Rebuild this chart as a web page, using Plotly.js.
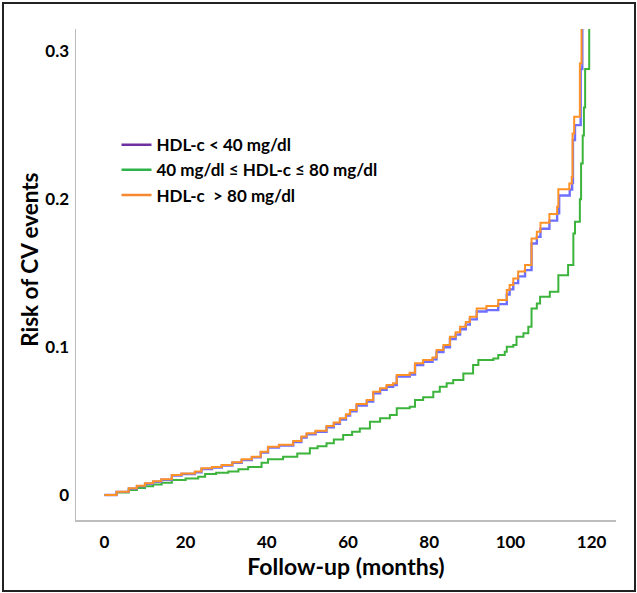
<!DOCTYPE html>
<html>
<head>
<meta charset="utf-8">
<script src="https://cdn.plot.ly/plotly-3.0.1.min.js"></script>
<style>
  html, body { margin: 0; padding: 0; background: #fff; }
  #wrap { position: relative; width: 637px; height: 593px; }
  #chart { width: 637px; height: 593px; }
  #frame { position: absolute; left: 2px; top: 2px; width: 630px; height: 586px;
           border: 2px solid #222; pointer-events: none; }
</style>
</head>
<body>
<div id="wrap"><div id="chart"></div><div id="frame"></div></div>
<script>
// Series names
const seriesNames = ["HDL-c < 40 mg/dl", "40 mg/dl \u2264 HDL-c \u2264 80 mg/dl", "HDL-c \u00a0> 80 mg/dl"];

// HDL-c > 80 mg/dl (orange)
const highMonths = [0,3,6,8,10,12,14,16.6,19,22.3,23.9,26.5,28.9,31.5,33.8,36.3,38.5,40.3,43,46.5,48.5,49.8,52,54.7,56.5,58,59.5,60.5,62.1,64.6,66.2,67.9,69.5,71.1,72,75.2,76.5,78.5,80.8,81.8,83.5,85.1,86.5,87.6,89,90,91.7,94.1,97,99.1,99.8,100.7,101.9,103.6,105.2,106.5,107.4,109.6,111.5,111.8,114.5,115.1,115.3,115.7,117.1,117.5];
const highRisk = [0,0.0022,0.0045,0.0062,0.0079,0.0093,0.0106,0.0135,0.0146,0.0158,0.018,0.019,0.0203,0.0222,0.0241,0.0259,0.0293,0.0326,0.034,0.0365,0.0395,0.0417,0.0435,0.0466,0.049,0.0518,0.0545,0.0574,0.0615,0.0642,0.0698,0.0721,0.0743,0.0755,0.0811,0.0826,0.089,0.0912,0.093,0.098,0.1014,0.107,0.110,0.1137,0.117,0.1205,0.1261,0.1277,0.1318,0.1385,0.142,0.1464,0.151,0.1554,0.1734,0.178,0.184,0.190,0.1948,0.2066,0.2106,0.215,0.2444,0.2556,0.2917,0.32];

// HDL-c < 40 mg/dl (blue line)
const lowMonths = [0,3,6,8,10,12,14,16.6,19,22.3,23.9,26.5,28.9,31.5,33.8,36.3,38.5,40.3,43,46.5,48.5,49.8,52,54.7,56.5,58,59.5,60.5,62.1,64.6,66.2,67.9,69.5,71.1,72,75.2,76.5,78.5,80.8,81.8,83.5,85.1,86.5,87.6,89,90,91.7,94.1,97,99.1,99.8,100.7,101.9,103.6,105.2,106.5,107.4,109.6,111.5,112.0,114.6,115.2,115.4,115.9,117.3,117.7];
const lowRisk = [0,0.0021,0.0043,0.0060,0.0076,0.0090,0.0103,0.0131,0.0142,0.0154,0.0176,0.0186,0.0199,0.0218,0.0236,0.0254,0.0287,0.0320,0.0334,0.0358,0.0388,0.0410,0.0428,0.0458,0.0482,0.0510,0.0537,0.0565,0.0605,0.0632,0.0688,0.0711,0.0732,0.0744,0.0800,0.0815,0.0878,0.0900,0.0917,0.0966,0.0999,0.1054,0.1084,0.1120,0.1152,0.1187,0.1240,0.1250,0.1290,0.1355,0.139,0.1432,0.1478,0.1520,0.1700,0.1745,0.1800,0.1855,0.1905,0.2025,0.2065,0.2110,0.2400,0.2500,0.2880,0.32];

// 40 <= HDL-c <= 80 mg/dl (green)
const midMonths = [0,3,6,8,10,12,14.1,16.6,20,23.1,24.8,27.5,30.5,33,35.4,38.7,40.3,44,47.5,50.6,52.5,54.7,56.5,58.8,61,62.9,65.4,67.9,70.3,72,75.2,76.5,78.5,81,82.6,84.3,85.9,88.4,90.8,92.1,95.8,97,98.6,99.1,100.7,101.5,103.2,104.4,105.2,106.5,107.3,109.7,111.8,114.2,115.5,115.9,117.1,117.4,117.8,118.1,118.4,119.4];
const midRisk = [0,0.0017,0.0034,0.0047,0.0059,0.0071,0.0083,0.0101,0.0112,0.0124,0.0142,0.015,0.0158,0.0174,0.019,0.0218,0.0241,0.0258,0.028,0.0316,0.033,0.035,0.0375,0.0405,0.0428,0.045,0.0495,0.0518,0.054,0.0586,0.0597,0.0642,0.066,0.0698,0.0732,0.0755,0.0777,0.0822,0.0878,0.0912,0.0923,0.0946,0.0968,0.1002,0.1014,0.107,0.1093,0.1137,0.1261,0.1295,0.134,0.1374,0.1486,0.1554,0.1768,0.1847,0.2,0.224,0.243,0.262,0.288,0.32];

const xTicks = [0,20,40,60,80,100,120];
const yTicks = [0,0.1,0.2,0.3];
const yTickText = ["0","0.1","0.2","0.3"];

const FONT = "Lato, 'Open Sans', sans-serif";

const traces = [
  {x: midMonths, y: midRisk, mode: "lines", line: {shape: "hv", color: "#3cb43c", width: 2}, showlegend: false, hoverinfo: "skip"},
  {x: lowMonths, y: lowRisk, mode: "lines", line: {shape: "hv", color: "#6f6fff", width: 2.4}, showlegend: false, hoverinfo: "skip"},
  {x: highMonths, y: highRisk, mode: "lines", line: {shape: "hv", color: "#ff9226", width: 2}, showlegend: false, hoverinfo: "skip"},
  {x: [null], y: [null], mode: "lines", name: seriesNames[0], line: {color: "#7030a0", width: 2.5}},
  {x: [null], y: [null], mode: "lines", name: seriesNames[1], line: {color: "#2db34a", width: 2.5}},
  {x: [null], y: [null], mode: "lines", name: seriesNames[2], line: {color: "#f7882f", width: 2.5}}
];

const layout = {
  width: 637, height: 593,
  margin: {l: 76, r: 21, t: 29, b: 73},
  paper_bgcolor: "#fff", plot_bgcolor: "#fff",
  showlegend: true,
  legend: {x: 0.075, y: 0.8, xanchor: "left", yanchor: "top", bgcolor: "rgba(0,0,0,0)",
           font: {family: FONT, size: 17, color: "#000", weight: "bold"}, tracegroupgap: 0},
  xaxis: {
    range: [-7, 126], tickvals: xTicks, ticktext: xTicks.map(String),
    showgrid: false, zeroline: false, showline: true, linecolor: "#bdbdbd", linewidth: 1.5,
    ticks: "", ticklabelstandoff: 6,
    tickfont: {family: FONT, size: 17, color: "#000", weight: "bold"},
    title: {text: "Follow-up (months)", font: {family: FONT, size: 23, color: "#000", weight: "bold"}, standoff: 6}
  },
  yaxis: {
    range: [-0.0169, 0.315], tickvals: yTicks, ticktext: yTickText,
    showgrid: false, zeroline: false, showline: true, linecolor: "#bdbdbd", linewidth: 1.5,
    ticks: "", ticklabelstandoff: 2,
    tickfont: {family: FONT, size: 17, color: "#000", weight: "bold"}
  },
  annotations: [{
    text: "Risk of CV events", xref: "paper", yref: "paper", x: -0.085, y: 0.53,
    xanchor: "center", yanchor: "middle", textangle: -90, showarrow: false,
    font: {family: FONT, size: 22.5, color: "#000", weight: "bold"}
  }]
};

Plotly.newPlot("chart", traces, layout, {displayModeBar: false, staticPlot: true});
</script>
</body>
</html>
